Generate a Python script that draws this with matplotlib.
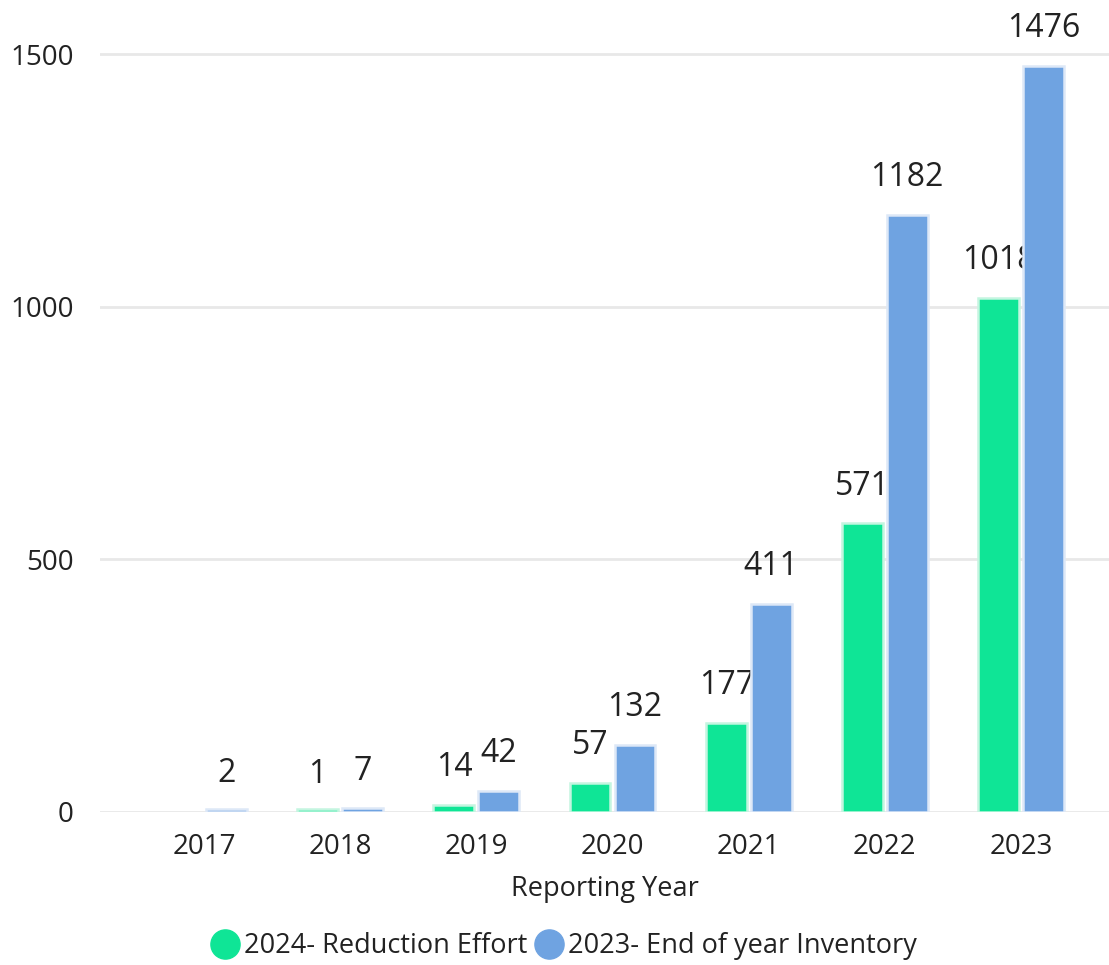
import matplotlib
matplotlib.use("Agg")
import matplotlib.pyplot as plt
from matplotlib.lines import Line2D
import numpy as np

years = ["2017", "2018", "2019", "2020", "2021", "2022", "2023"]
reduction = [None, 1, 14, 57, 177, 571, 1018]
inventory = [2, 7, 42, 132, 411, 1182, 1476]
series_names = ["2024- Reduction Effort", "2023- End of year Inventory"]
yticks = [0, 500, 1000, 1500]

green = "#0fe596"
blue = "#6fa3e1"
green_edge = "#c4f5e0"
blue_edge = "#dde8f7"

plt.rcParams['font.family'] = ['Open Sans', 'DejaVu Sans']

fig = plt.figure(figsize=(11.09, 9.65), dpi=100)
ax = fig.add_axes([100/1109, 1 - 812/965, 1 - 100/1109, (812 - 3.5)/965])

x = np.arange(len(years))
w = 0.30
off = 0.165
min_h = 6  # minimum visible bar height in data units

for i, (g, b) in enumerate(zip(reduction, inventory)):
    if g is not None:
        ax.bar(x[i] - off, max(g, min_h), width=w, color=green, edgecolor=green_edge, linewidth=1.8, zorder=3)
        ax.annotate(str(g), (x[i] - off, g), xytext=(0, 15), textcoords="offset points",
                    ha="center", va="bottom", fontsize=23, color="#222222")
    ax.bar(x[i] + off, max(b, min_h), width=w, color=blue, edgecolor=blue_edge, linewidth=1.8, zorder=3)
    ax.annotate(str(b), (x[i] + off, b), xytext=(0, 15), textcoords="offset points",
                ha="center", va="bottom", fontsize=23, color="#222222")

ax.set_xlim(-104/136, 6 + 88/136)
ax.set_ylim(0, 1600)
ax.set_yticks(yticks)
ax.set_yticklabels([str(t) for t in yticks], fontsize=20, color="#222222")
ax.set_xticks(x)
ax.set_xticklabels(years, fontsize=20, color="#222222")
ax.tick_params(axis="both", length=0)
ax.tick_params(axis="y", pad=19)
ax.tick_params(axis="x", pad=15)
ax.grid(axis="y", color="#e8e8e8", linewidth=2, zorder=0)
ax.set_axisbelow(True)
for s in ax.spines.values():
    s.set_visible(False)
ax.set_xlabel("Reporting Year", fontsize=19.5, color="#222222", labelpad=10)

handles = [Line2D([], [], marker="o", linestyle="", markersize=21, color=green),
           Line2D([], [], marker="o", linestyle="", markersize=21, color=blue)]
fig.legend(handles, series_names, loc="center", bbox_to_anchor=(560/1109, 1 - 946/965),
           ncol=2, frameon=False, fontsize=19.5, handletextpad=-0.1, columnspacing=0.0,
           handlelength=1.6, labelcolor="#222222")

fig.savefig("out.png", dpi=100, facecolor="white")
